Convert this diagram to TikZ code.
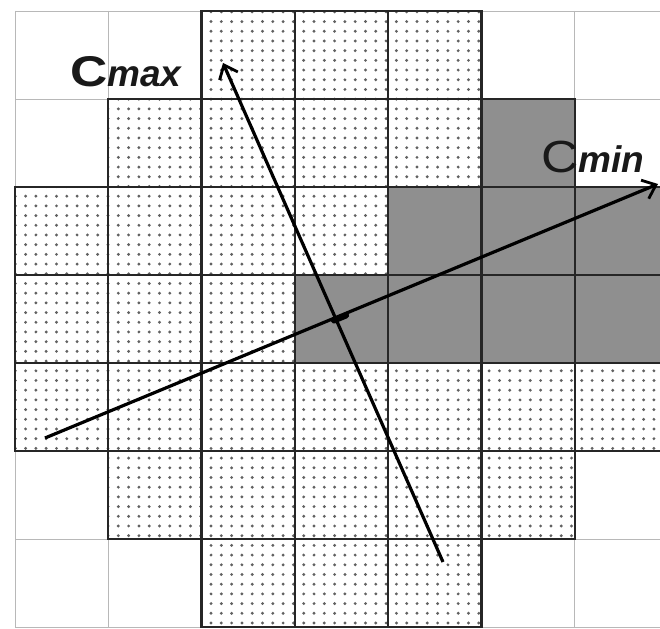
\documentclass[tikz,border=0pt]{standalone}
\usepackage{fontspec}
\setmainfont{Liberation Sans}
\usepackage{graphicx}
\usetikzlibrary{arrows.meta,patterns}
\pgfdeclarepatternformonly{cdots}{\pgfqpoint{-2pt}{-2pt}}{\pgfqpoint{12pt}{12pt}}{\pgfqpoint{10.3pt}{9.7pt}}{%
  \pgfpathcircle{\pgfqpoint{5pt}{5pt}}{1.6pt}%
  \pgfusepath{fill}}
\definecolor{darkcell}{gray}{0.56}
\definecolor{lightline}{gray}{0.72}
\tikzset{
  lightgrid/.style={draw=lightline, line width=0.8pt},
  dotcell/.style={fill=white, postaction={pattern=cdots, pattern color=black!62}},
  darkfill/.style={fill=darkcell},
  cellborder/.style={draw=black!85, line width=2.3pt},
  vec/.style={draw=black, line width=3.2pt, -{Straight Barb[length=12pt,width=20pt,line width=2.8pt]}},
  lab/.style={anchor=base west, inner sep=0pt, text=black!90}
}
\begin{document}
\begin{tikzpicture}[x=1pt,y=-1pt]
\useasboundingbox (0,0) rectangle (660,628);
\fill[white] (0,0) rectangle (660,628);
\begin{scope}
\clip (0,0) rectangle (660,628);
% light background grid
\foreach \i in {0,...,7} {
  \draw[lightgrid] ({15+\i*93.3},11) -- ({15+\i*93.3},627);
  \draw[lightgrid] (15,{11+\i*88}) -- (668,{11+\i*88});
}
% dotted cells
\foreach \x/\y in {2/0,3/0,4/0, 1/1,2/1,3/1,4/1, 0/2,1/2,2/2,3/2, 0/3,1/3,2/3,
  0/4,1/4,2/4,3/4,4/4,5/4,6/4, 1/5,2/5,3/5,4/5,5/5, 2/6,3/6,4/6}
  \path[dotcell] ({15+\x*93.3},{11+\y*88}) rectangle ({15+(\x+1)*93.3},{11+(\y+1)*88});
% dark cells
\foreach \x/\y in {5/1, 4/2,5/2,6/2, 3/3,4/3,5/3,6/3}
  \path[darkfill] ({15+\x*93.3},{11+\y*88}) rectangle ({15+(\x+1)*93.3},{11+(\y+1)*88});
% borders
\foreach \x/\y in {2/0,3/0,4/0, 1/1,2/1,3/1,4/1, 0/2,1/2,2/2,3/2, 0/3,1/3,2/3,
  0/4,1/4,2/4,3/4,4/4,5/4,6/4, 1/5,2/5,3/5,4/5,5/5, 2/6,3/6,4/6,
  5/1, 4/2,5/2,6/2, 3/3,4/3,5/3,6/3}
  \path[cellborder] ({15+\x*93.3},{11+\y*88}) rectangle ({15+(\x+1)*93.3},{11+(\y+1)*88});
\end{scope}
% vectors
\coordinate (maxS) at (443,562);
\coordinate (maxE) at (223,63);
\coordinate (minS) at (45,438);
\coordinate (minE) at (658,184);
\draw[vec] (maxS) -- (maxE);
\draw[vec] (minS) -- (minE);
\coordinate (cross) at (340,318);
\draw[line width=6pt, line cap=round] ([shift={(-6,2.5)}]cross) -- ([shift={(6,-2.5)}]cross);
% labels
\node[lab] (cmax) at (70,87) {\scalebox{1.2}[1]{\fontsize{43}{43}\selectfont\bfseries C}\fontsize{37}{37}\selectfont\bfseries\itshape max};
\node[lab] (cmin) at (541,173) {\scalebox{1.15}[1]{\fontsize{45}{45}\selectfont C}\fontsize{37}{37}\selectfont\bfseries\itshape min};
\end{tikzpicture}
\end{document}
